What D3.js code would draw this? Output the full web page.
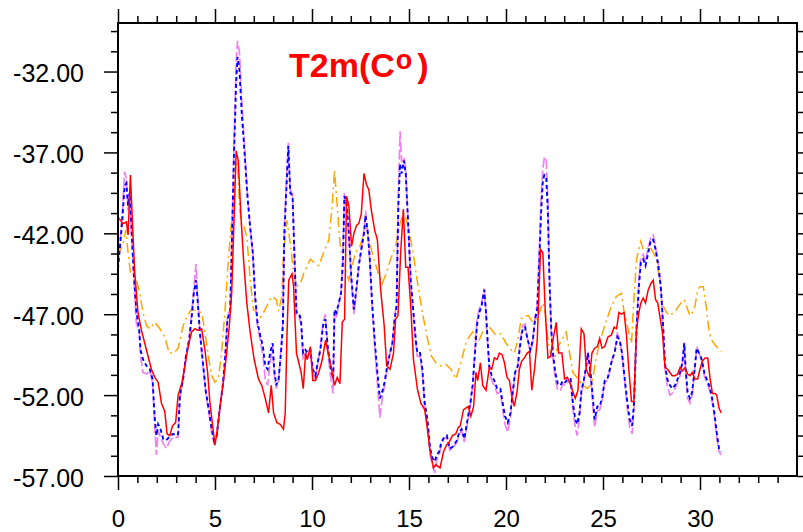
<!DOCTYPE html>
<html>
<head>
<meta charset="utf-8">
<script src="https://cdn.jsdelivr.net/npm/d3@7"></script>
<style>
  body { margin: 0; background: #fff; }
  svg { display: block; font-family: "Liberation Sans", Arial, Helvetica, sans-serif; }
</style>
</head>
<body>
<svg width="803" height="532"></svg>
<script>
// tick labels / axis setup
var xTicks = [0, 5, 10, 15, 20, 25, 30];
var yTicks = [-57, -52, -47, -42, -37, -32];
var title = "T2m(C";

// [day, T2m]
var redSeries = [[0.0,-41.0],[0.26,-41.4],[0.43,-41.3],[0.52,-42.1],[0.64,-38.4],[0.74,-41.2],[0.86,-44.4],[1.03,-46.9],[1.21,-48.0],[1.38,-48.8],[1.55,-49.6],[1.72,-50.4],[1.9,-50.9],[2.07,-51.2],[2.24,-52.5],[2.41,-53.0],[2.53,-54.4],[2.67,-54.5],[2.81,-53.9],[2.97,-53.7],[3.1,-52.0],[3.28,-51.3],[3.45,-50.2],[3.62,-49.0],[3.79,-48.1],[3.97,-47.9],[4.14,-48.0],[4.31,-47.9],[4.48,-49.2],[4.62,-50.6],[4.74,-52.5],[4.88,-53.9],[5.0,-55.1],[5.12,-54.1],[5.26,-52.7],[5.43,-51.2],[5.6,-49.4],[5.74,-47.7],[5.86,-45.7],[5.98,-41.2],[6.09,-36.9],[6.2,-37.5],[6.33,-40.8],[6.47,-43.6],[6.64,-46.3],[6.81,-48.1],[7.02,-49.8],[7.24,-51.0],[7.41,-51.4],[7.59,-52.2],[7.76,-53.1],[7.9,-51.4],[8.02,-53.1],[8.19,-53.7],[8.36,-53.8],[8.53,-54.1],[8.62,-53.1],[8.71,-48.3],[8.8,-44.9],[8.97,-44.5],[9.05,-45.3],[9.2,-49.4],[9.32,-50.0],[9.44,-50.6],[9.55,-51.6],[9.67,-49.4],[9.75,-49.8],[9.92,-49.0],[10.04,-51.1],[10.18,-51.1],[10.35,-50.6],[10.53,-49.8],[10.7,-48.6],[10.87,-49.6],[11.04,-50.6],[11.16,-51.4],[11.3,-50.9],[11.44,-51.3],[11.56,-47.5],[11.68,-47.3],[11.78,-39.7],[11.9,-40.3],[12.04,-42.8],[12.16,-42.0],[12.3,-41.5],[12.41,-41.4],[12.54,-40.8],[12.68,-38.3],[12.81,-39.0],[12.93,-39.3],[13.05,-40.5],[13.23,-41.8],[13.37,-42.4],[13.54,-45.5],[13.72,-47.7],[13.85,-50.2],[14.02,-50.4],[14.2,-49.4],[14.31,-47.3],[14.43,-47.1],[14.57,-43.2],[14.71,-40.5],[14.83,-44.1],[14.95,-44.1],[15.09,-46.5],[15.23,-49.8],[15.43,-51.6],[15.61,-52.5],[15.81,-52.9],[15.95,-54.1],[16.09,-55.5],[16.26,-56.5],[16.38,-56.3],[16.6,-56.5],[16.78,-55.5],[16.93,-55.1],[17.07,-54.9],[17.24,-54.5],[17.41,-54.4],[17.54,-54.0],[17.64,-53.9],[17.81,-52.9],[17.93,-52.8],[18.05,-52.7],[18.19,-53.3],[18.33,-52.7],[18.45,-50.6],[18.54,-51.1],[18.68,-50.0],[18.8,-51.4],[18.97,-51.7],[19.14,-50.3],[19.26,-50.4],[19.4,-49.7],[19.54,-49.8],[19.66,-49.4],[19.8,-49.5],[19.92,-50.0],[20.05,-50.9],[20.18,-51.1],[20.3,-52.1],[20.43,-52.7],[20.57,-51.8],[20.69,-50.4],[20.81,-49.9],[20.95,-49.7],[21.09,-49.4],[21.21,-49.3],[21.33,-51.7],[21.47,-50.4],[21.61,-48.6],[21.78,-43.0],[21.9,-43.2],[22.02,-46.7],[22.16,-49.7],[22.3,-49.6],[22.42,-48.6],[22.59,-47.5],[22.71,-49.4],[22.88,-49.4],[23.02,-51.0],[23.16,-50.9],[23.28,-51.2],[23.45,-51.8],[23.57,-52.2],[23.71,-51.7],[23.88,-47.9],[24.02,-48.2],[24.14,-50.4],[24.31,-50.9],[24.43,-49.4],[24.57,-49.1],[24.71,-49.0],[24.83,-48.5],[24.95,-49.1],[25.09,-49.0],[25.26,-48.4],[25.43,-48.3],[25.57,-47.8],[25.7,-47.9],[25.82,-46.9],[25.95,-47.0],[26.09,-46.9],[26.21,-48.3],[26.33,-50.4],[26.47,-52.4],[26.59,-52.4],[26.73,-47.9],[26.85,-46.9],[26.95,-46.3],[27.07,-46.0],[27.19,-46.3],[27.33,-45.5],[27.47,-45.1],[27.59,-44.9],[27.71,-46.1],[27.82,-46.3],[27.94,-47.2],[28.06,-48.1],[28.2,-50.3],[28.33,-50.4],[28.45,-50.6],[28.57,-50.8],[28.71,-50.8],[28.85,-50.7],[28.97,-50.3],[29.09,-50.5],[29.23,-50.3],[29.36,-50.7],[29.48,-50.8],[29.6,-50.6],[29.74,-51.0],[29.88,-51.0],[30.0,-50.4],[30.12,-49.9],[30.26,-49.7],[30.4,-49.7],[30.52,-51.0],[30.64,-51.9],[30.78,-51.9],[30.86,-52.0],[30.98,-52.8],[31.09,-53.1]];

var blueSeries = [[0.0,-44.2],[0.22,-41.2],[0.34,-39.1],[0.43,-38.9],[0.52,-40.3],[0.6,-39.5],[0.69,-41.6],[0.81,-44.4],[0.95,-46.9],[1.09,-47.9],[1.16,-49.2],[1.29,-49.8],[1.47,-50.2],[1.64,-50.4],[1.78,-51.0],[1.9,-53.5],[1.98,-54.5],[2.07,-53.8],[2.19,-54.1],[2.33,-54.7],[2.47,-54.8],[2.64,-54.6],[2.84,-54.4],[3.02,-54.5],[3.1,-54.4],[3.19,-52.0],[3.36,-51.0],[3.5,-49.6],[3.67,-48.6],[3.79,-47.3],[3.91,-45.7],[4.02,-44.9],[4.09,-45.9],[4.22,-48.1],[4.36,-49.8],[4.53,-51.8],[4.71,-53.1],[4.83,-54.1],[4.95,-54.8],[5.09,-54.5],[5.22,-53.1],[5.4,-51.4],[5.53,-49.6],[5.64,-47.3],[5.78,-46.9],[5.86,-43.2],[5.98,-37.1],[6.09,-32.7],[6.16,-31.1],[6.26,-31.9],[6.38,-34.6],[6.5,-36.6],[6.67,-39.7],[6.81,-41.6],[6.95,-43.2],[7.07,-45.9],[7.19,-47.5],[7.33,-48.3],[7.47,-49.0],[7.59,-50.2],[7.71,-50.4],[7.84,-49.4],[7.97,-48.8],[8.05,-50.4],[8.16,-51.4],[8.28,-51.0],[8.4,-49.4],[8.5,-47.7],[8.57,-42.2],[8.67,-39.5],[8.78,-36.6],[8.88,-39.5],[9.0,-39.7],[9.09,-43.2],[9.2,-46.9],[9.31,-46.9],[9.43,-47.3],[9.54,-49.4],[9.66,-49.2],[9.78,-49.4],[9.91,-49.2],[10.05,-50.4],[10.18,-50.8],[10.29,-50.0],[10.43,-49.2],[10.57,-47.7],[10.69,-47.3],[10.81,-49.0],[10.95,-50.2],[11.09,-51.0],[11.16,-46.7],[11.26,-46.9],[11.38,-46.3],[11.5,-45.7],[11.6,-43.6],[11.67,-39.7],[11.78,-40.1],[11.9,-42.0],[12.02,-44.6],[12.16,-46.7],[12.3,-45.3],[12.41,-44.0],[12.54,-43.0],[12.68,-42.0],[12.76,-40.9],[12.88,-42.0],[12.98,-43.6],[13.1,-46.3],[13.23,-48.6],[13.37,-50.6],[13.5,-52.2],[13.62,-51.8],[13.74,-51.2],[13.88,-50.2],[14.02,-49.4],[14.14,-48.8],[14.26,-47.3],[14.36,-46.5],[14.45,-40.3],[14.54,-37.7],[14.62,-38.3],[14.74,-37.5],[14.83,-38.3],[14.95,-41.2],[15.09,-44.9],[15.23,-46.9],[15.35,-48.6],[15.43,-49.4],[15.57,-49.4],[15.69,-50.4],[15.81,-52.5],[15.95,-53.5],[16.09,-55.3],[16.21,-55.9],[16.33,-56.1],[16.43,-55.7],[16.55,-55.5],[16.67,-54.9],[16.81,-54.6],[16.95,-54.5],[17.1,-55.3],[17.25,-55.2],[17.47,-54.8],[17.59,-54.3],[17.71,-54.1],[17.85,-54.7],[18.02,-53.5],[18.16,-52.5],[18.28,-51.4],[18.4,-49.4],[18.5,-47.7],[18.62,-46.9],[18.74,-46.5],[18.88,-45.5],[18.97,-46.9],[19.05,-48.6],[19.14,-50.2],[19.26,-50.8],[19.4,-51.1],[19.54,-51.6],[19.71,-51.6],[19.83,-52.5],[19.95,-53.3],[20.09,-53.7],[20.23,-53.1],[20.35,-51.8],[20.47,-50.6],[20.61,-50.2],[20.74,-48.8],[20.86,-47.9],[20.98,-47.8],[21.12,-48.6],[21.26,-49.2],[21.38,-48.6],[21.5,-47.3],[21.61,-46.7],[21.73,-43.2],[21.81,-40.7],[21.9,-38.7],[21.98,-38.4],[22.07,-38.5],[22.16,-40.7],[22.24,-44.9],[22.33,-47.9],[22.42,-49.4],[22.54,-50.6],[22.67,-51.3],[22.81,-51.4],[22.93,-51.1],[23.05,-51.2],[23.19,-51.0],[23.33,-51.0],[23.45,-52.5],[23.57,-53.5],[23.67,-53.8],[23.79,-53.1],[23.88,-51.8],[24.02,-51.0],[24.14,-50.2],[24.22,-49.4],[24.36,-50.6],[24.5,-52.5],[24.57,-53.5],[24.71,-52.7],[24.83,-52.7],[24.95,-52.2],[25.09,-51.1],[25.23,-51.0],[25.35,-50.4],[25.47,-49.8],[25.6,-49.4],[25.74,-48.4],[25.86,-48.6],[25.98,-49.4],[26.12,-51.0],[26.26,-52.5],[26.38,-53.5],[26.5,-53.9],[26.6,-52.5],[26.73,-47.9],[26.85,-45.3],[26.95,-43.8],[27.07,-43.6],[27.19,-44.0],[27.33,-43.2],[27.47,-42.4],[27.59,-42.4],[27.71,-43.0],[27.85,-44.0],[27.98,-45.3],[28.1,-47.7],[28.19,-50.0],[28.31,-51.0],[28.45,-51.4],[28.57,-51.6],[28.71,-51.4],[28.85,-51.0],[28.97,-50.6],[29.09,-50.0],[29.19,-48.8],[29.26,-50.4],[29.36,-51.8],[29.48,-52.2],[29.6,-51.8],[29.74,-50.2],[29.83,-49.1],[29.95,-49.4],[30.09,-49.8],[30.22,-50.6],[30.34,-51.0],[30.47,-51.4],[30.6,-52.0],[30.74,-53.1],[30.86,-54.3],[30.98,-55.3],[31.09,-55.5]];

var violetSeries = [[0.0,-44.0],[0.22,-40.8],[0.34,-38.2],[0.43,-38.6],[0.52,-40.6],[0.6,-39.6],[0.69,-41.8],[0.81,-44.6],[0.95,-47.6],[1.09,-48.0],[1.16,-49.6],[1.29,-50.6],[1.47,-50.7],[1.64,-50.5],[1.78,-51.2],[1.9,-54.0],[1.98,-55.7],[2.07,-54.2],[2.19,-54.6],[2.33,-55.0],[2.5,-55.3],[2.64,-54.9],[2.84,-54.6],[3.02,-54.6],[3.1,-54.6],[3.19,-52.2],[3.36,-51.0],[3.5,-49.6],[3.67,-48.4],[3.79,-47.0],[3.91,-45.4],[4.02,-43.9],[4.09,-45.6],[4.22,-48.1],[4.36,-49.9],[4.53,-51.9],[4.71,-53.3],[4.83,-54.3],[4.95,-55.0],[5.09,-54.7],[5.22,-53.2],[5.4,-51.4],[5.53,-49.5],[5.64,-47.2],[5.78,-46.6],[5.86,-42.9],[5.98,-36.4],[6.09,-31.5],[6.16,-30.1],[6.26,-30.8],[6.38,-33.8],[6.5,-36.2],[6.67,-39.5],[6.81,-41.6],[6.95,-43.3],[7.07,-46.1],[7.19,-47.7],[7.33,-48.6],[7.47,-49.6],[7.59,-51.0],[7.71,-51.4],[7.84,-50.0],[7.97,-49.0],[8.05,-50.7],[8.16,-51.6],[8.28,-51.1],[8.4,-49.2],[8.5,-47.4],[8.57,-41.8],[8.67,-39.0],[8.78,-36.4],[8.88,-39.3],[9.0,-39.6],[9.09,-43.2],[9.2,-47.0],[9.31,-47.1],[9.43,-47.6],[9.54,-49.7],[9.66,-49.4],[9.78,-49.7],[9.91,-49.4],[10.05,-50.6],[10.18,-51.0],[10.29,-50.1],[10.43,-49.1],[10.57,-47.5],[10.69,-47.0],[10.81,-49.2],[10.95,-50.8],[11.09,-51.9],[11.16,-46.9],[11.26,-47.1],[11.38,-46.4],[11.5,-45.6],[11.6,-43.2],[11.67,-39.5],[11.78,-40.2],[11.9,-42.2],[12.02,-44.8],[12.16,-47.0],[12.3,-45.5],[12.41,-44.1],[12.54,-43.0],[12.68,-41.8],[12.76,-40.6],[12.88,-42.0],[12.98,-43.8],[13.1,-46.6],[13.23,-49.0],[13.37,-51.2],[13.5,-53.4],[13.62,-52.2],[13.74,-51.4],[13.88,-50.3],[14.02,-49.4],[14.14,-48.8],[14.26,-47.2],[14.36,-46.2],[14.45,-39.5],[14.54,-35.7],[14.62,-37.6],[14.74,-37.3],[14.83,-38.0],[14.95,-41.2],[15.09,-45.1],[15.23,-47.1],[15.35,-48.8],[15.43,-49.6],[15.57,-49.6],[15.69,-50.7],[15.81,-52.8],[15.95,-53.9],[16.09,-55.7],[16.21,-56.3],[16.33,-56.8],[16.43,-56.0],[16.55,-55.7],[16.67,-55.1],[16.81,-54.7],[16.95,-54.6],[17.1,-55.4],[17.25,-55.3],[17.47,-54.9],[17.59,-54.4],[17.71,-54.2],[17.85,-54.9],[18.02,-53.7],[18.16,-52.7],[18.28,-51.4],[18.4,-49.2],[18.5,-47.4],[18.62,-46.7],[18.74,-46.3],[18.88,-45.4],[18.97,-46.9],[19.05,-48.7],[19.14,-50.5],[19.26,-51.1],[19.4,-51.4],[19.54,-51.9],[19.71,-51.8],[19.83,-52.9],[19.95,-53.8],[20.09,-54.3],[20.23,-53.4],[20.35,-51.9],[20.47,-50.6],[20.61,-50.1],[20.74,-48.6],[20.86,-47.7],[20.98,-47.6],[21.12,-48.6],[21.26,-49.4],[21.38,-48.7],[21.5,-47.2],[21.61,-46.4],[21.73,-42.6],[21.81,-39.8],[21.9,-38.0],[21.98,-37.3],[22.07,-37.4],[22.16,-40.0],[22.24,-44.7],[22.33,-48.0],[22.42,-49.7],[22.54,-51.0],[22.67,-51.7],[22.81,-51.7],[22.93,-51.3],[23.05,-51.4],[23.19,-51.2],[23.33,-51.2],[23.45,-52.9],[23.57,-54.0],[23.67,-54.5],[23.79,-53.4],[23.88,-52.0],[24.02,-51.1],[24.14,-50.2],[24.22,-49.3],[24.36,-50.8],[24.5,-53.0],[24.57,-54.0],[24.71,-53.0],[24.83,-52.9],[24.95,-52.4],[25.09,-51.2],[25.23,-51.1],[25.35,-50.5],[25.47,-49.8],[25.6,-49.3],[25.74,-48.2],[25.86,-48.5],[25.98,-49.5],[26.12,-51.2],[26.26,-52.9],[26.38,-54.0],[26.5,-54.4],[26.6,-52.8],[26.73,-47.6],[26.85,-44.9],[26.95,-43.5],[27.07,-43.3],[27.19,-43.8],[27.33,-42.9],[27.47,-42.2],[27.59,-42.1],[27.71,-42.8],[27.85,-43.9],[27.98,-45.3],[28.1,-47.9],[28.19,-50.3],[28.31,-51.4],[28.45,-52.0],[28.57,-51.9],[28.71,-51.6],[28.85,-51.2],[28.97,-50.8],[29.09,-50.1],[29.19,-48.7],[29.26,-50.6],[29.36,-52.2],[29.48,-52.5],[29.6,-52.0],[29.74,-50.3],[29.83,-49.0],[29.95,-49.4],[30.09,-49.9],[30.22,-50.8],[30.34,-51.2],[30.47,-51.6],[30.6,-52.2],[30.74,-53.3],[30.86,-54.6],[30.98,-55.5],[31.09,-55.7]];

var orangeSeries = [[0.0,-43.4],[0.26,-42.6],[0.4,-41.8],[0.52,-43.2],[0.64,-44.4],[0.78,-44.6],[0.95,-44.9],[1.12,-45.7],[1.29,-46.9],[1.47,-47.7],[1.64,-47.9],[1.9,-47.5],[2.16,-47.9],[2.41,-48.4],[2.64,-49.4],[2.88,-49.4],[3.1,-49.1],[3.36,-47.7],[3.57,-47.1],[3.79,-46.7],[4.05,-46.8],[4.31,-46.9],[4.48,-48.1],[4.66,-49.6],[4.83,-50.8],[5.0,-51.2],[5.17,-51.0],[5.34,-49.4],[5.52,-46.7],[5.69,-43.6],[5.86,-41.2],[5.98,-39.3],[6.09,-37.5],[6.17,-37.9],[6.26,-40.3],[6.38,-41.6],[6.5,-41.6],[6.64,-42.2],[6.81,-44.8],[6.98,-46.7],[7.16,-46.9],[7.33,-47.2],[7.5,-46.9],[7.67,-46.5],[7.93,-45.9],[8.16,-46.1],[8.28,-46.8],[8.45,-45.9],[8.53,-43.2],[8.71,-41.2],[8.88,-42.6],[9.05,-44.4],[9.2,-45.3],[9.4,-45.1],[9.6,-44.4],[9.92,-43.6],[10.1,-43.8],[10.35,-44.0],[10.6,-43.2],[10.87,-42.4],[11.04,-40.3],[11.16,-38.1],[11.3,-40.3],[11.44,-42.6],[11.64,-44.0],[11.9,-44.9],[12.07,-44.0],[12.24,-43.2],[12.47,-42.8],[12.68,-42.0],[12.81,-41.6],[12.93,-42.4],[13.19,-43.6],[13.45,-44.6],[13.62,-45.1],[13.85,-44.4],[14.05,-43.6],[14.31,-42.8],[14.54,-41.4],[14.71,-40.7],[14.88,-41.2],[15.09,-42.4],[15.26,-43.6],[15.47,-45.3],[15.69,-46.9],[15.95,-48.5],[16.16,-49.6],[16.38,-50.0],[16.64,-50.2],[16.9,-50.1],[17.16,-50.4],[17.42,-51.0],[17.67,-50.0],[17.93,-48.8],[18.1,-48.4],[18.28,-48.1],[18.45,-48.6],[18.62,-48.6],[18.79,-48.1],[19.05,-47.7],[19.22,-47.9],[19.4,-48.2],[19.57,-48.3],[19.74,-48.2],[20.0,-48.8],[20.26,-49.2],[20.43,-49.4],[20.61,-48.6],[20.78,-47.3],[20.95,-47.1],[21.16,-47.1],[21.38,-47.5],[21.55,-47.3],[21.72,-46.9],[21.9,-46.3],[22.02,-46.9],[22.16,-48.6],[22.33,-49.6],[22.5,-49.8],[22.67,-49.0],[22.88,-48.6],[23.1,-48.1],[23.28,-49.4],[23.45,-50.6],[23.71,-51.0],[23.97,-51.4],[24.19,-51.6],[24.36,-51.4],[24.48,-51.0],[24.6,-50.0],[24.74,-49.2],[24.91,-48.4],[25.17,-47.4],[25.43,-46.5],[25.69,-45.9],[25.95,-45.7],[26.09,-46.9],[26.21,-47.5],[26.33,-48.1],[26.47,-48.8],[26.59,-46.1],[26.73,-43.6],[26.85,-43.0],[26.95,-42.5],[27.07,-43.0],[27.24,-43.0],[27.41,-42.8],[27.59,-43.2],[27.76,-43.6],[27.93,-45.1],[28.1,-46.5],[28.28,-46.9],[28.45,-47.1],[28.62,-46.9],[28.79,-46.7],[29.02,-46.3],[29.19,-46.1],[29.36,-46.7],[29.48,-47.1],[29.6,-46.9],[29.74,-46.5],[29.88,-45.5],[30.0,-45.3],[30.17,-45.3],[30.34,-46.7],[30.47,-48.1],[30.6,-48.6],[30.78,-48.9],[30.93,-49.1],[31.09,-49.3]];

var svg = d3.select("svg");
var plotLeft = 118, plotTop = 23, plotRight = 797, plotBottom = 476; // plot frame

var xScale = d3.scaleLinear().domain([0, 35]).range([plotLeft, plotRight]);
var yScale = d3.scaleLinear().domain([-57, -29]).range([plotBottom, plotTop]);

var xMinor = d3.range(0, 36, 1).filter(d => d % 5 != 0);
var yMinor = d3.range(-57, -28.9, 1.25).filter(d => (d + 57) % 5 != 0);

function styleAxis(g) {
    g.select(".domain").remove();
    g.selectAll("line").attr("stroke", "#000").attr("stroke-width", 1.5);
    g.selectAll("text").attr("font-size", "24px").attr("fill", "#000");
}

// bottom axis with labels
svg.append("g").attr("transform", "translate(0," + plotBottom + ")")
    .call(d3.axisBottom(xScale).tickValues(xTicks).tickSize(14).tickPadding(20).tickFormat(d => d))
    .call(styleAxis);
svg.append("g").attr("transform", "translate(0," + plotBottom + ")")
    .call(d3.axisBottom(xScale).tickValues(xMinor).tickSize(7).tickFormat(""))
    .call(styleAxis);
// top axis, no labels
svg.append("g").attr("transform", "translate(0," + plotTop + ")")
    .call(d3.axisTop(xScale).tickValues(xTicks).tickSize(14).tickFormat(""))
    .call(styleAxis);
svg.append("g").attr("transform", "translate(0," + plotTop + ")")
    .call(d3.axisTop(xScale).tickValues(xMinor).tickSize(7).tickFormat(""))
    .call(styleAxis);
// left axis
svg.append("g").attr("transform", "translate(" + plotLeft + ",0)")
    .call(d3.axisLeft(yScale).tickValues(yTicks).tickSize(14).tickPadding(20).tickFormat(d => d.toFixed(2)))
    .call(styleAxis)
    .selectAll("text").attr("font-size", "25px").attr("dy", "0.4em");
svg.append("g").attr("transform", "translate(" + plotLeft + ",0)")
    .call(d3.axisLeft(yScale).tickValues(yMinor).tickSize(7).tickFormat(""))
    .call(styleAxis);
// right axis
svg.append("g").attr("transform", "translate(" + plotRight + ",0)")
    .call(d3.axisRight(yScale).tickValues(yTicks).tickSize(14).tickFormat(""))
    .call(styleAxis);
svg.append("g").attr("transform", "translate(" + plotRight + ",0)")
    .call(d3.axisRight(yScale).tickValues(yMinor).tickSize(7).tickFormat(""))
    .call(styleAxis);

var line = d3.line().x(d => xScale(d[0])).y(d => yScale(d[1]));

// draw order: orange, violet, blue, red on top
svg.append("path").datum(orangeSeries).attr("d", line)
    .attr("fill", "none").attr("stroke", "#ffa500").attr("stroke-width", 1.5)
    .attr("stroke-dasharray", "10,4,2,4");
svg.append("path").datum(violetSeries).attr("d", line)
    .attr("fill", "none").attr("stroke", "#ee82ee").attr("stroke-width", 1.7)
    .attr("stroke-dasharray", "10,3");
svg.append("path").datum(blueSeries).attr("d", line)
    .attr("fill", "none").attr("stroke", "#0000ff").attr("stroke-width", 1.9)
    .attr("stroke-dasharray", "4,3");
svg.append("path").datum(redSeries).attr("d", line)
    .attr("fill", "none").attr("stroke", "#ff0000").attr("stroke-width", 1.5);

// frame
svg.append("rect").attr("x", plotLeft).attr("y", plotTop)
    .attr("width", plotRight - plotLeft).attr("height", plotBottom - plotTop)
    .attr("fill", "none").attr("stroke", "#000").attr("stroke-width", 2);

// title with raised small "o"
var t = svg.append("text")
    .attr("x", 289).attr("y", 77)
    .attr("font-size", "34px").attr("font-weight", "bold").attr("fill", "#ff0000")
    .text(title);
t.append("tspan").attr("font-size", "27px").attr("dx", 1).attr("dy", -8).text("o");
t.append("tspan").attr("dx", 5).attr("dy", 8).text(")");
</script>
</body>
</html>
